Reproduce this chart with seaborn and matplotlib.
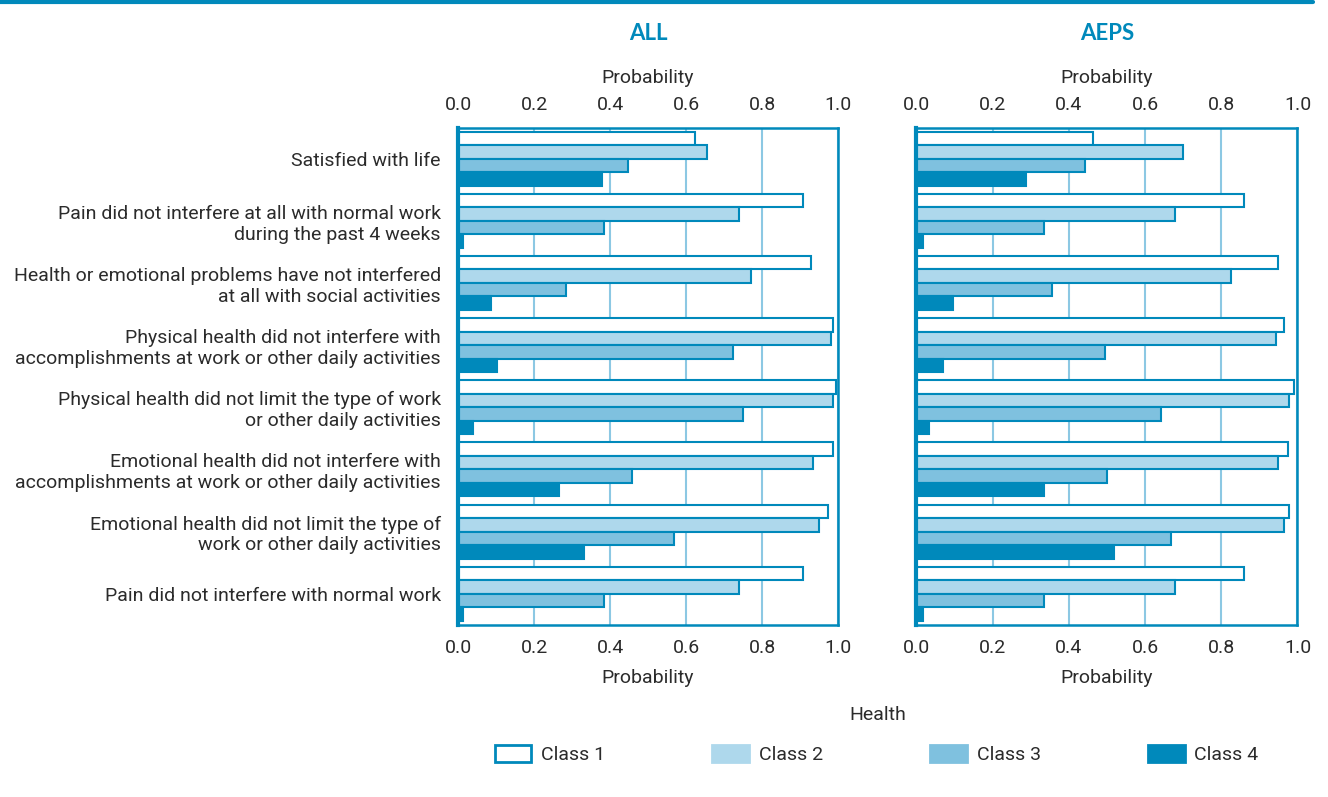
import matplotlib
matplotlib.use("Agg")
import matplotlib.pyplot as plt
from matplotlib.patches import Patch
from matplotlib.lines import Line2D
import pandas as pd
import seaborn as sns

categorias = [
    "Satisfied with life",
    "Pain did not interfere at all with normal work\nduring the past 4 weeks",
    "Health or emotional problems have not interfered\nat all with social activities",
    "Physical health did not interfere with\naccomplishments at work or other daily activities",
    "Physical health did not limit the type of work\nor other daily activities",
    "Emotional health did not interfere with\naccomplishments at work or other daily activities",
    "Emotional health did not limit the type of\nwork or other daily activities",
    "Pain did not interfere with normal work",
]
clases = ["Class 1", "Class 2", "Class 3", "Class 4"]

# panel ALL
all_c1 = [0.624, 0.907, 0.928, 0.986, 0.995, 0.986, 0.975, 0.907]
all_c2 = [0.655, 0.740, 0.772, 0.981, 0.986, 0.933, 0.949, 0.740]
all_c3 = [0.447, 0.384, 0.284, 0.724, 0.750, 0.457, 0.567, 0.384]
all_c4 = [0.380, 0.012, 0.086, 0.102, 0.039, 0.265, 0.332, 0.012]

# panel AEPS
aeps_c1 = [0.464, 0.860, 0.949, 0.965, 0.991, 0.975, 0.979, 0.860]
aeps_c2 = [0.699, 0.678, 0.825, 0.944, 0.979, 0.949, 0.964, 0.678]
aeps_c3 = [0.443, 0.334, 0.355, 0.496, 0.642, 0.501, 0.667, 0.334]
aeps_c4 = [0.289, 0.017, 0.095, 0.070, 0.033, 0.335, 0.518, 0.017]

paneles = {"ALL": [all_c1, all_c2, all_c3, all_c4],
           "AEPS": [aeps_c1, aeps_c2, aeps_c3, aeps_c4]}

azul = "#0089BB"
colores = {"Class 1": "#FFFFFF", "Class 2": "#AED8EC",
           "Class 3": "#7FC1DF", "Class 4": azul}
grid_color = "#8CC8E3"
texto = "#2b2b2b"

sns.set_theme(style="white")
plt.rcParams["font.family"] = ["Roboto", "DejaVu Sans"]

fig = plt.figure(figsize=(13.28, 7.97), dpi=100)
ax1 = fig.add_axes([0.345, 0.216, 0.286, 0.624])
ax2 = fig.add_axes([0.690, 0.216, 0.287, 0.624])

for ax, (nombre, series) in zip([ax1, ax2], paneles.items()):
    filas = []
    for clase, valores in zip(clases, series):
        for cat, v in zip(categorias, valores):
            filas.append((cat, clase, v))
    df = pd.DataFrame(filas, columns=("Categoria", "Clase", "Prob"))
    sns.barplot(df, y="Categoria", x="Prob", hue="Clase", hue_order=clases,
                order=categorias, palette=colores, orient="h", width=0.87,
                saturation=1, edgecolor=azul, linewidth=1.5, errorbar=None,
                legend=False, ax=ax)
    ax.set_xlim(0, 1.0)
    ax.set_ylim(7.5, -0.5)
    ax.set_xticks([0, 0.2, 0.4, 0.6, 0.8, 1.0])
    ax.set_xticklabels(["0.0", "0.2", "0.4", "0.6", "0.8", "1.0"])
    ax.set_axisbelow(True)
    ax.grid(axis="x", color=grid_color, linewidth=1.5)
    ax.grid(axis="y", visible=False)
    ax.tick_params(axis="x", top=True, labeltop=True, bottom=True, labelbottom=True,
                   length=0, pad=10, labelsize=14, labelcolor=texto)
    ax.tick_params(axis="y", length=0, pad=12.5, labelsize=14, labelcolor=texto)
    ax.set_xlabel("")
    ax.set_ylabel("")
    for lado, sp in ax.spines.items():
        sp.set_visible(True)
        sp.set_color(azul)
        sp.set_linewidth(3 if lado == "left" else 1.8)
    ax.text(0.5, 1.10, "Probability", transform=ax.transAxes, ha="center",
            va="center", fontsize=14, color=texto)
    ax.text(0.5, -0.107, "Probability", transform=ax.transAxes, ha="center",
            va="center", fontsize=14, color=texto)
    ax.text(0.5, 1.19, nombre, transform=ax.transAxes, ha="center", va="center",
            fontsize=16, fontweight="bold", color=azul, family=["Lato", "DejaVu Sans"])

ax2.set_yticklabels([])

fig.add_artist(Line2D([0, 0.989], [0.997, 0.997], color=azul, linewidth=3,
                      transform=fig.transFigure))

handles = [Patch(facecolor=colores[c], edgecolor=azul if c == "Class 1" else colores[c],
                 linewidth=2) for c in clases]
fig.text(0.661, 0.103, "Health", ha="center", va="center", fontsize=14, color=texto)
fig.legend(handles, clases, loc="center", bbox_to_anchor=(0.66, 0.053), ncol=4,
           frameon=False, fontsize=14, handlelength=1.9, handleheight=1.0,
           handletextpad=0.5, columnspacing=5.5, labelcolor=texto)

fig.savefig("out.png", dpi=100)
